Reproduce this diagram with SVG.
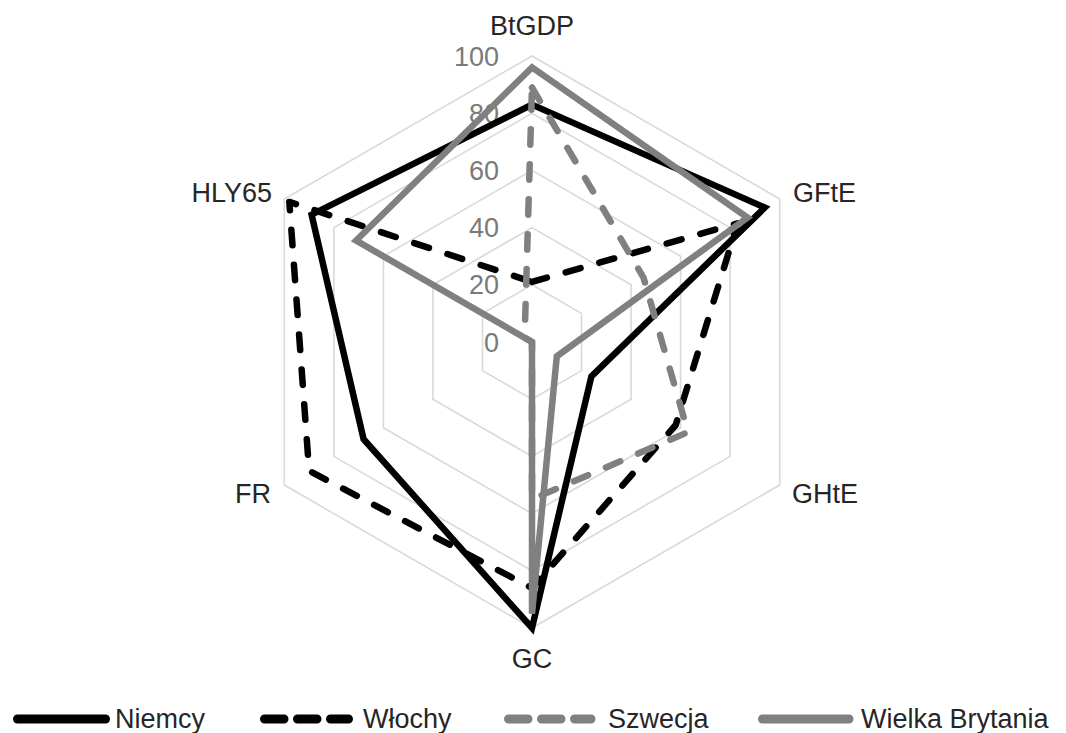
<svg xmlns="http://www.w3.org/2000/svg" width="1066" height="733" viewBox="0 0 1066 733">
  <style>
    .grid { fill: none; stroke: #d9d9d9; stroke-width: 1.6; }
    .lbl { font-family: "Liberation Sans", Arial, sans-serif; font-size: 27px; fill: #262626; }
    .val { font-family: "Liberation Sans", Arial, sans-serif; font-size: 27px; fill: #7a7a7a; text-anchor: end; }
    .s { fill: none; stroke-width: 6.5; stroke-linejoin: miter; stroke-miterlimit: 4; }
    .dash { stroke-dasharray: 15.5 19.5; stroke-linecap: round; stroke-linejoin: round; }
    .blk { stroke: #000000; }
    .gry { stroke: #808080; }
    .leg { fill: none; stroke-width: 9; stroke-linecap: round; }
    .legdash { stroke-dasharray: 19.5 13.5; }
  </style>
  <rect width="1066" height="733" fill="#ffffff"/>
  <g id="grid">
    <polygon class="grid" points="532,284.8 581.5,313.4 581.5,370.6 532,399.2 482.5,370.6 482.5,313.4"/>
    <polygon class="grid" points="532,227.6 631.1,284.8 631.1,399.2 532,456.4 432.9,399.2 432.9,284.8"/>
    <polygon class="grid" points="532,170.4 680.6,256.2 680.6,427.8 532,513.6 383.4,427.8 383.4,256.2"/>
    <polygon class="grid" points="532,113.2 730.1,227.6 730.1,456.4 532,570.8 333.9,456.4 333.9,227.6"/>
    <polygon class="grid" points="532,56 779.7,199 779.7,485 532,628 284.3,485 284.3,199"/>
  </g>
  <g id="value-labels">
    <text class="val" x="499" y="65.5">100</text>
    <text class="val" x="499" y="122.7">80</text>
    <text class="val" x="499" y="179.9">60</text>
    <text class="val" x="499" y="237.1">40</text>
    <text class="val" x="499" y="294.3">20</text>
    <text class="val" x="499" y="351.5">0</text>
  </g>
  <g id="axis-labels">
    <g id="axis-BtGDP"><text class="lbl" x="532" y="35" text-anchor="middle">BtGDP</text></g>
    <g id="axis-GFtE"><text class="lbl" x="793" y="202">GFtE</text></g>
    <g id="axis-GHtE"><text class="lbl" x="792" y="503">GHtE</text></g>
    <g id="axis-GC"><text class="lbl" x="532" y="668" text-anchor="middle">GC</text></g>
    <g id="axis-FR"><text class="lbl" x="271" y="503" text-anchor="end">FR</text></g>
    <g id="axis-HLY65"><text class="lbl" x="272" y="202" text-anchor="end">HLY65</text></g>
  </g>
  <g id="series">
    <polygon id="niemcy" class="s blk" points="532,104.6 764.8,207.6 591.4,376.3 532,628 363.6,439.2 311.6,214.7"/>
    <polygon id="wlochy" class="s blk dash" points="532,281.9 737.6,223.3 675.7,425 532,588 309.1,470.7 289.3,201.9"/>
    <polygon id="szwecja" class="s gry dash" points="532,87.5 643.5,277.6 688,432.1 532,499.3 532,342 524.6,337.7"/>
    <polygon id="wielka-brytania" class="s gry" points="532,67.4 747.5,217.6 556.8,356.3 532,613.7 532,342 356.1,240.5"/>
  </g>
  <g id="legend">
    <g id="legend-niemcy">
      <line class="leg blk" x1="17.5" y1="719" x2="105.5" y2="719"/>
      <text class="lbl" x="115" y="728">Niemcy</text>
    </g>
    <g id="legend-wlochy">
      <line class="leg blk legdash" x1="264.5" y1="719" x2="348.5" y2="719"/>
      <text class="lbl" x="363" y="728">Włochy</text>
    </g>
    <g id="legend-szwecja">
      <line class="leg gry legdash" x1="508.5" y1="719" x2="591" y2="719"/>
      <text class="lbl" x="608" y="728">Szwecja</text>
    </g>
    <g id="legend-wb">
      <line class="leg gry" x1="762.5" y1="719" x2="849" y2="719"/>
      <text class="lbl" x="861" y="728">Wielka Brytania</text>
    </g>
  </g>
</svg>
